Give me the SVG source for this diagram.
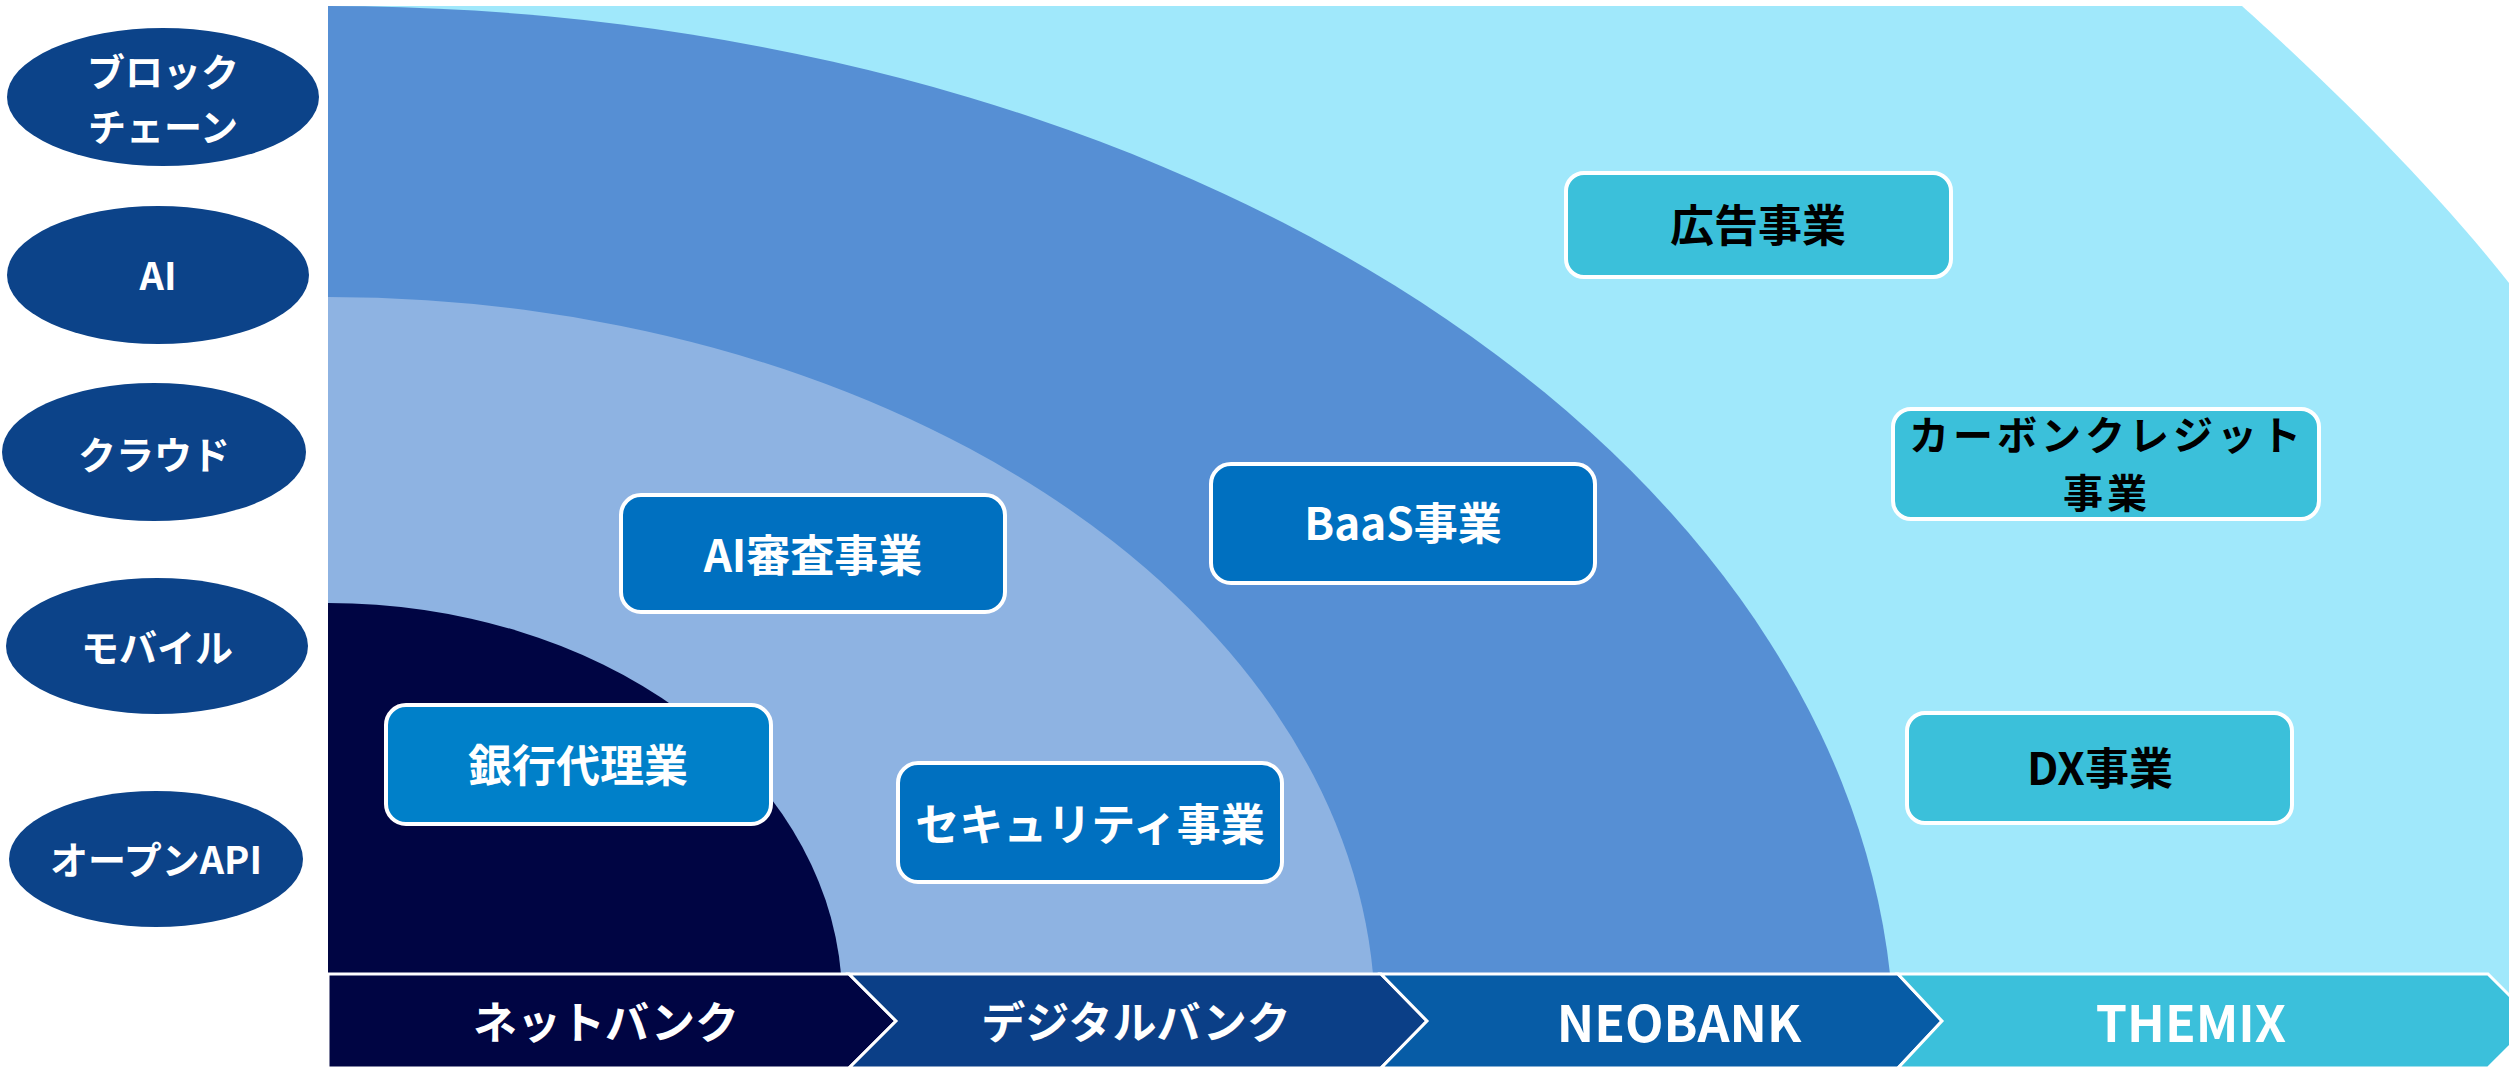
<svg xmlns="http://www.w3.org/2000/svg" width="2509" height="1067" viewBox="0 0 2509 1067">
<style>
.tech{fill:#0C4389}
.tt{font-family:"Noto Sans CJK JP","Noto Sans",sans-serif;font-weight:bold;font-size:38px;fill:#fff;text-anchor:middle;dominant-baseline:central}
.box{stroke:#fff;stroke-width:4}
.wt{font-family:"Noto Sans CJK JP","Noto Sans",sans-serif;font-weight:bold;font-size:44px;fill:#fff;text-anchor:middle;dominant-baseline:central}
.kt{font-family:"Noto Sans CJK JP","Noto Sans",sans-serif;font-weight:bold;font-size:44px;fill:#000;text-anchor:middle;dominant-baseline:central}
.chev{stroke:#fff;stroke-width:3}
.ct{font-family:"Noto Sans CJK JP","Noto Sans",sans-serif;font-weight:bold;font-size:44px;fill:#fff;text-anchor:middle;dominant-baseline:central}
</style>
<rect x="0" y="0" width="2509" height="1067" fill="#fff"/>
<g id="regions">
<path d="M328 6 L2242 6 C2300 58 2420 170 2509 283 L2509 1000 L328 1000 Z" fill="#A0E8FB"/>
<path d="M328 974 L328 6 A1566 1044 0 0 1 1890 974 Z" fill="#568FD4"/>
<path d="M328 974 L328 297 A1047 723 0 0 1 1373 974 Z" fill="#8EB3E2"/>
<path d="M328 974 L328 603 A514 397 0 0 1 841 974 Z" fill="#000543"/>
</g>
<g id="tech-blockchain"><ellipse class="tech" cx="163" cy="97" rx="156" ry="69"/><text class="tt" x="163" y="69">ブロック<tspan x="163" dy="55">チェーン</tspan></text></g>
<g id="tech-ai"><ellipse class="tech" cx="158" cy="275" rx="151" ry="69"/><text class="tt" x="158" y="273">AI</text></g>
<g id="tech-cloud"><ellipse class="tech" cx="154" cy="452" rx="152" ry="69"/><text class="tt" x="154" y="452">クラウド</text></g>
<g id="tech-mobile"><ellipse class="tech" cx="157" cy="646" rx="151" ry="68"/><text class="tt" x="157" y="645">モバイル</text></g>
<g id="tech-openapi"><ellipse class="tech" cx="156" cy="859" rx="147" ry="68"/><text class="tt" x="156" y="857">オープンAPI</text></g>
<g id="box-agency"><rect class="box" x="386" y="705" width="385" height="119" rx="20" fill="#0080C9"/><text class="wt" x="578" y="763">銀行代理業</text></g>
<g id="box-ai"><rect class="box" x="621" y="495" width="384" height="117" rx="20" fill="#0070C0"/><text class="wt" x="813" y="553">AI審査事業</text></g>
<g id="box-security"><rect class="box" x="898" y="763" width="384" height="119" rx="20" fill="#0070C0"/><text class="wt" x="1090" y="822">セキュリティ事業</text></g>
<g id="box-baas"><rect class="box" x="1211" y="464" width="384" height="119" rx="20" fill="#0070C0"/><text class="wt" x="1403" y="521">BaaS事業</text></g>
<g id="box-ad"><rect class="box" x="1566" y="173" width="385" height="104" rx="18" fill="#3BC0DA"/><text class="kt" x="1758" y="223">広告事業</text></g>
<g id="box-carbon"><rect class="box" x="1893" y="409" width="426" height="110" rx="18" fill="#3BC0DA"/><text class="kt" x="2107" y="433" style="font-size:40px;letter-spacing:4px">カーボンクレジット<tspan x="2107" dy="58">事業</tspan></text></g>
<g id="box-dx"><rect class="box" x="1907" y="713" width="385" height="110" rx="18" fill="#3BC0DA"/><text class="kt" x="2100" y="766">DX事業</text></g>
<g id="connectors">
<g id="stage-netbank"><path class="chev" d="M328 974 L849 974 L896 1021 L849 1068 L328 1068 Z" fill="#000543"/><text class="ct" x="606" y="1020">ネットバンク</text></g>
<g id="stage-digital"><path class="chev" d="M849 974 L1381 974 L1427 1021 L1381 1068 L849 1068 L896 1021 Z" fill="#0B3F87"/><text class="ct" x="1136" y="1020">デジタルバンク</text></g>
<g id="stage-neobank"><path class="chev" d="M1381 974 L1898 974 L1942 1021 L1898 1068 L1381 1068 L1427 1021 Z" fill="#075CA6"/><text class="ct" x="1679" y="1020" style="font-size:50px">NEOBANK</text></g>
<g id="stage-themix"><path class="chev" d="M1898 974 L2488 974 L2535 1021 L2488 1068 L1898 1068 L1942 1021 Z" fill="#3BC0DB"/><text class="ct" x="2191" y="1020" style="font-size:50px">THEMIX</text></g>
</g>
</svg>
